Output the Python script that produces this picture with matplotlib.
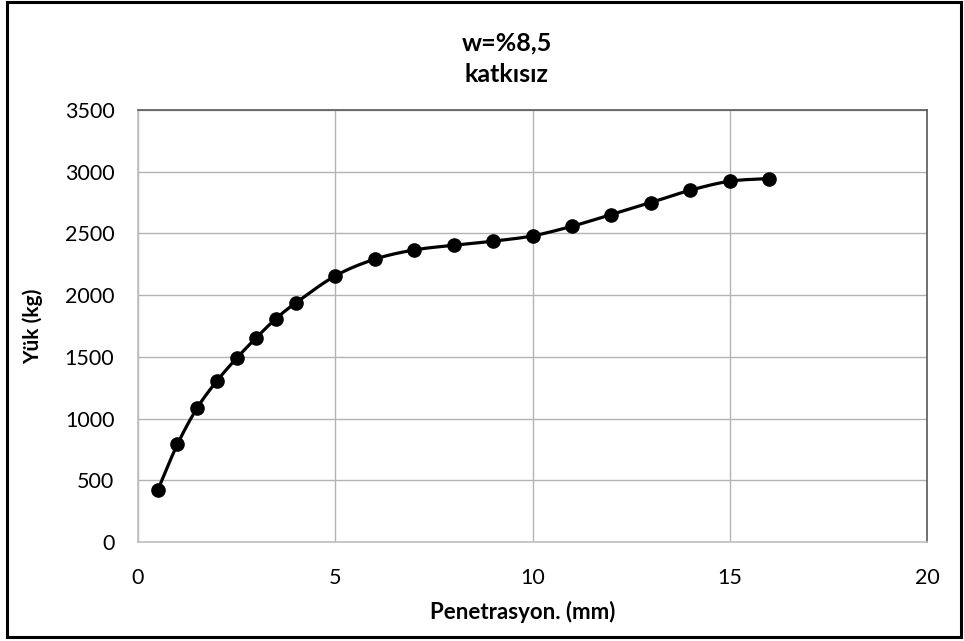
import numpy as np
import matplotlib
matplotlib.use("Agg")
import matplotlib.pyplot as plt
from matplotlib.patches import Rectangle

penetration = [0.5, 1, 1.5, 2, 2.5, 3, 3.5, 4, 5, 6, 7, 8, 9, 10, 11, 12, 13, 14, 15, 16]
load = [420, 792, 1086, 1305, 1489, 1656, 1810, 1937, 2156, 2291, 2366, 2404, 2437,
        2480, 2558, 2653, 2750, 2850, 2923, 2945]
xticks = [0, 5, 10, 15, 20]
yticks = [0, 500, 1000, 1500, 2000, 2500, 3000, 3500]
title_lines = ["w=%8,5", "katkısız"]
xlabel = "Penetrasyon. (mm)"
ylabel = "Yük (kg)"

plt.rcParams['font.family'] = ['Lato', 'DejaVu Sans']

W, H = 964, 641
fig = plt.figure(figsize=(W / 100, H / 100), dpi=100)
L, R, T, B = 138, 927, 110, 542
ax = fig.add_axes([L / W, 1 - B / H, (R - L) / W, (B - T) / H])


def smooth(xs, ys, n=20):
    xs = np.asarray(xs, float)
    ys = np.asarray(ys, float)
    px = np.concatenate([[2 * xs[0] - xs[1]], xs, [2 * xs[-1] - xs[-2]]])
    py = np.concatenate([[2 * ys[0] - ys[1]], ys, [2 * ys[-1] - ys[-2]]])
    ox, oy = [], []
    t = np.linspace(0, 1, n, endpoint=False)
    for i in range(1, len(px) - 2):
        for p, o in ((px, ox), (py, oy)):
            p0, p1, p2, p3 = p[i - 1], p[i], p[i + 1], p[i + 2]
            v = 0.5 * ((2 * p1) + (-p0 + p2) * t + (2 * p0 - 5 * p1 + 4 * p2 - p3) * t ** 2
                       + (-p0 + 3 * p1 - 3 * p2 + p3) * t ** 3)
            o.extend(v)
    ox.append(xs[-1])
    oy.append(ys[-1])
    return np.array(ox), np.array(oy)


sx, sy = smooth(penetration, load)
ax.plot(sx, sy, color='black', lw=2.3, zorder=3)
ax.plot(penetration, load, 'o', color='black', ms=9.5, zorder=4)

ax.set_xlim(0, 20)
ax.set_ylim(0, 3500)
ax.set_xticks(xticks)
ax.set_yticks(yticks)
ax.grid(True, color='#b3b3b3', lw=1)
ax.set_axisbelow(True)
ax.tick_params(length=0, labelsize=15.5, colors='black')
ax.tick_params(axis='y', pad=17)
ax.tick_params(axis='x', pad=19)
for s in ['left', 'bottom']:
    ax.spines[s].set_color('#bfbfbf')
    ax.spines[s].set_linewidth(1.2)
for s in ['top', 'right']:
    ax.spines[s].set_color('#595959')
    ax.spines[s].set_linewidth(1.2)

fig.text(507 / W, 1 - 43 / H, title_lines[0], ha='center', va='center',
         fontsize=18, fontweight='bold')
fig.text(507 / W, 1 - 75 / H, title_lines[1], ha='center', va='center',
         fontsize=18, fontweight='bold')
fig.text(523 / W, 1 - 612 / H, xlabel, ha='center', va='center',
         fontsize=16, fontweight='bold')
fig.text(33 / W, 1 - 326 / H, ylabel, ha='center', va='center', rotation=90,
         fontsize=15, fontweight='bold')

fig.patches.append(Rectangle((7 / W, 1 - 637 / H), 954 / W, 635 / H,
                             transform=fig.transFigure, fill=False,
                             edgecolor='black', lw=2.2))

fig.savefig('out.png', dpi=100)
